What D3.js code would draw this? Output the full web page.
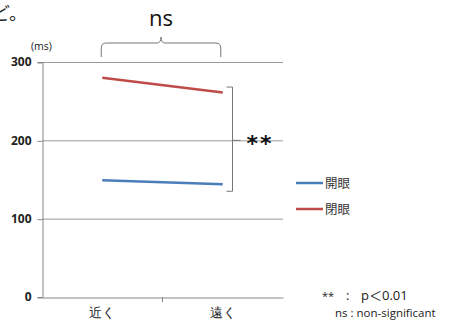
<!DOCTYPE html>
<html>
<head>
<meta charset="utf-8">
<script src="https://cdn.jsdelivr.net/npm/d3@7"></script>
<style>
  body { margin: 0; background: #fff; }
  svg { display: block; font-family: "Noto Sans CJK JP", "Open Sans", sans-serif; }
</style>
</head>
<body>
<div id="chart"></div>
<script>
// data
const categories = ["近く", "遠く"];
const seriesNames = ["開眼", "閉眼"];
const openValues = [149, 144];
const closedValues = [280, 261];
const yTicks = [0, 100, 200, 300];
const seriesColors = ["#4a7ebb", "#be4b48"];

const width = 449, height = 324;
const svg = d3.select("#chart").append("svg")
    .attr("width", width)
    .attr("height", height);

// plot area
const x = d3.scaleBand().domain(categories).range([42, 283]);
const y = d3.scaleLinear().domain([0, 300]).range([297, 62]);

// gridlines
svg.append("g").selectAll("line")
  .data(yTicks.filter(d => d > 0))
  .join("line")
    .attr("x1", 42).attr("x2", 283)
    .attr("y1", d => y(d) + 0.5).attr("y2", d => y(d) + 0.5)
    .attr("stroke", "#9a9a9a").attr("stroke-width", 1);

// y axis
const yAxis = svg.append("g")
    .attr("transform", "translate(42.5,0)")
    .call(d3.axisLeft(y).tickValues(yTicks).tickSize(5).tickPadding(6));
yAxis.select(".domain").attr("stroke", "#888");
yAxis.selectAll(".tick line").attr("stroke", "#888").attr("transform", "translate(0,0.5)");
yAxis.selectAll(".tick text")
    .attr("font-family", "Open Sans, sans-serif")
    .attr("font-size", 12).attr("font-weight", "bold").attr("fill", "#222");

// x axis
const xAxis = svg.append("g")
    .attr("transform", "translate(0,297.5)")
    .call(d3.axisBottom(x).tickSize(0).tickPadding(11));
xAxis.select(".domain").attr("stroke", "#888");
xAxis.selectAll(".tick text")
    .attr("font-size", 12.5).attr("fill", "#222");
// category separator tick
svg.append("line")
    .attr("x1", 162.5).attr("x2", 162.5).attr("y1", 297).attr("y2", 302)
    .attr("stroke", "#888");

svg.append("text")
    .attr("x", 31).attr("y", 50)
    .attr("font-family", "Open Sans, sans-serif")
    .attr("font-size", 10.5).attr("fill", "#222")
    .text("(ms)");

// lines
const line = d3.line()
    .x((d, i) => x(categories[i]) + x.bandwidth() / 2)
    .y(d => y(d));
[openValues, closedValues].forEach((vals, i) => {
  svg.append("path")
      .attr("d", line(vals))
      .attr("fill", "none")
      .attr("stroke", seriesColors[i])
      .attr("stroke-width", 2.5);
});

// legend
const legend = svg.append("g");
seriesNames.forEach((name, i) => {
  const ly = 183 + i * 26;
  legend.append("line")
      .attr("x1", 296).attr("x2", 323).attr("y1", ly).attr("y2", ly)
      .attr("stroke", seriesColors[i]).attr("stroke-width", 2.5);
  legend.append("text")
      .attr("x", 325).attr("y", ly + 4.5)
      .attr("font-size", 12.5).attr("fill", "#333")
      .text(name);
});

// significance bracket (right)
const bx = 232.5, bTop = y(268), bBot = y(135);
svg.append("path")
    .attr("d", `M${bx - 6},${bTop} H${bx} V${bBot} H${bx - 6} M${bx},${y(200)} H${bx + 8}`)
    .attr("fill", "none").attr("stroke", "#777").attr("stroke-width", 1);
svg.append("text")
    .attr("x", 260).attr("y", y(200) + 11)
    .attr("text-anchor", "middle")
    .attr("font-family", "DejaVu Sans, sans-serif")
    .attr("font-weight", "bold")
    .attr("letter-spacing", 2)
    .attr("font-size", 22).attr("fill", "#111")
    .text("**");

// top brace
const l = x(categories[0]) + x.bandwidth() / 2 - 1, r = x(categories[1]) + x.bandwidth() / 2 - 2;
const mid = (l + r) / 2, by = 43;
svg.append("path")
    .attr("d", `M${l},57 V${by + 5} Q${l},${by} ${l + 5},${by} H${mid - 4} Q${mid},${by} ${mid},${by - 6} Q${mid},${by} ${mid + 4},${by} H${r - 5} Q${r},${by} ${r},${by + 5} V57`)
    .attr("fill", "none").attr("stroke", "#777").attr("stroke-width", 1);
svg.append("text")
    .attr("x", mid).attr("y", 26)
    .attr("text-anchor", "middle")
    .attr("font-family", "Open Sans, sans-serif")
    .attr("font-size", 22).attr("fill", "#111")
    .text("ns");

// notes
const note = svg.append("text")
    .attr("x", 322).attr("y", 300)
    .attr("font-family", "Open Sans, sans-serif")
    .attr("font-size", 13).attr("fill", "#222")
    .attr("xml:space", "preserve");
note.append("tspan").attr("font-size", 11).text("**");
note.append("tspan").attr("x", 346).text(":");
note.append("tspan").attr("x", 361).text("p");
note.append("tspan").attr("font-family", "Noto Sans CJK JP").text("＜");
note.append("tspan").text("0.01");
svg.append("text")
    .attr("x", 335).attr("y", 317)
    .attr("font-family", "Open Sans, sans-serif")
    .attr("font-size", 11.5).attr("fill", "#222")
    .text("ns : non-significant");

// cut-off text fragment from the page
svg.append("text")
    .attr("x", -8).attr("y", 20)
    .attr("font-size", 18).attr("fill", "#222")
    .text("ど。");
</script>
</body>
</html>
